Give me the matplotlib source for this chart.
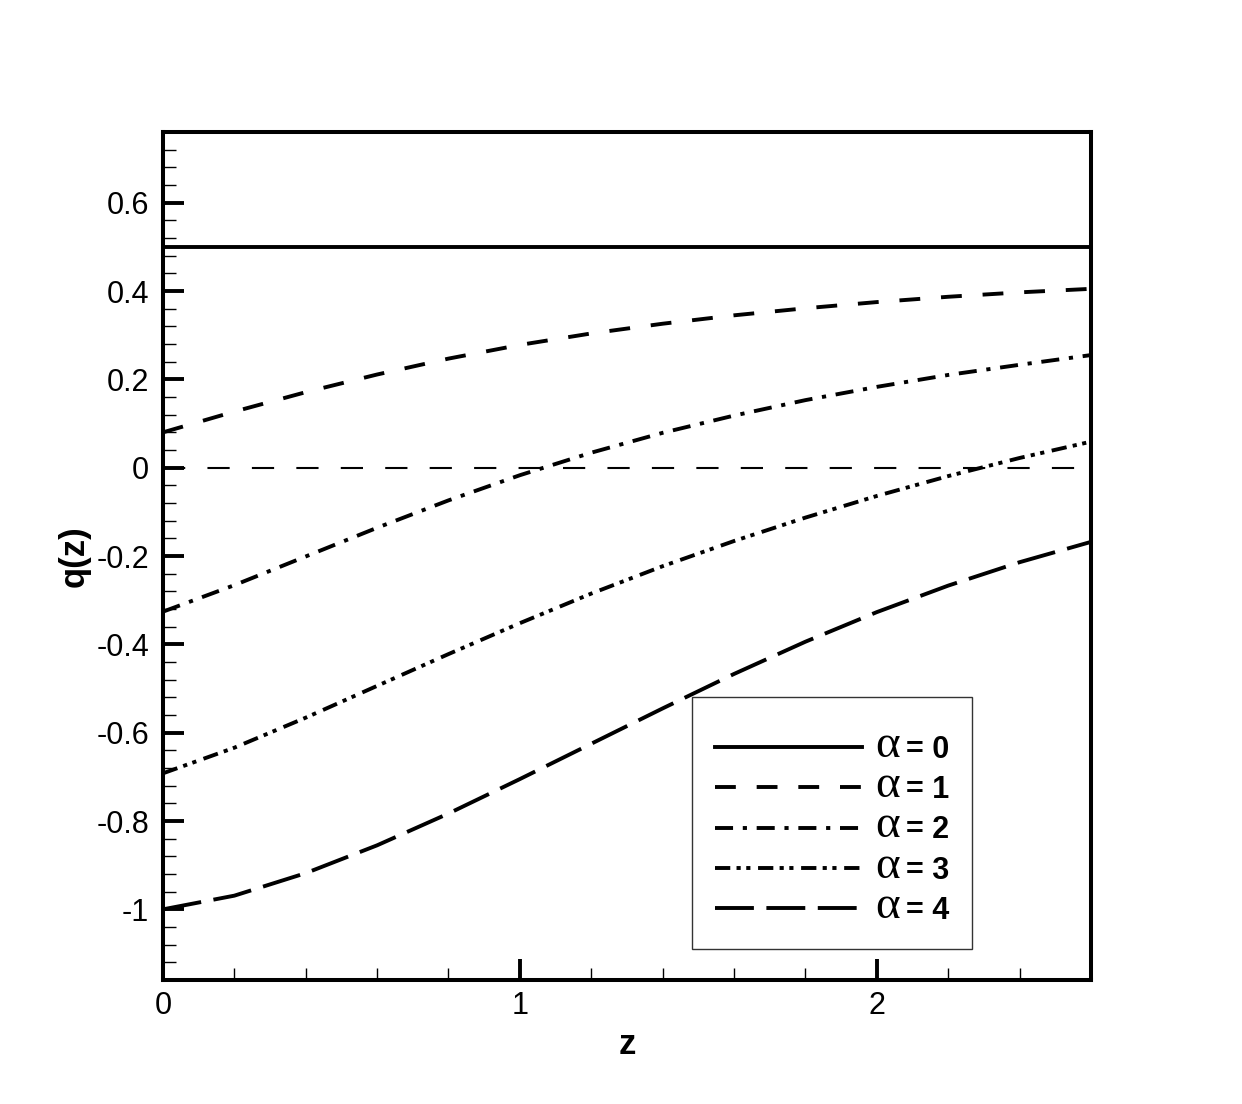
import numpy as np
import matplotlib
matplotlib.use('Agg')
import matplotlib.pyplot as plt
from matplotlib.ticker import MultipleLocator, FixedLocator

plt.rcParams['font.family'] = ['Liberation Sans', 'DejaVu Sans']
plt.rcParams['lines.scale_dashes'] = False

# values
z = [0.0, 0.2, 0.4, 0.6, 0.8, 1.0, 1.2, 1.4, 1.6, 1.8, 2.0, 2.2, 2.4, 2.6]
q_a0 = [0.5] * 14
q_a1 = [0.080, 0.127, 0.171, 0.211, 0.247, 0.278, 0.304, 0.326, 0.345, 0.361, 0.375, 0.387, 0.397, 0.405]
q_a2 = [-0.326, -0.266, -0.201, -0.136, -0.074, -0.017, 0.034, 0.079, 0.118, 0.153, 0.183, 0.210, 0.233, 0.255]
q_a3 = [-0.692, -0.634, -0.566, -0.494, -0.422, -0.352, -0.285, -0.223, -0.166, -0.113, -0.064, -0.019, 0.022, 0.059]
q_a4 = [-1.000, -0.969, -0.918, -0.855, -0.783, -0.705, -0.625, -0.545, -0.467, -0.394, -0.327, -0.267, -0.214, -0.168]
alphas = [0, 1, 2, 3, 4]
zero_line = [0.0] * 14

styles = ['-',
          (0, (15, 15)),
          (0, (13, 7, 3, 7)),
          (0, (11, 4.5, 3, 4, 3, 5.5)),
          (0, (28, 9))]

fig = plt.figure(figsize=(12.42, 11.04), dpi=100)
ax = fig.add_axes([0.1312, 0.1123, 0.7472, 0.7681])

ax.plot(z, zero_line, color='black', lw=1.5, linestyle=(0, (16, 16)))
for a, qv, ls in zip(alphas, [q_a0, q_a1, q_a2, q_a3, q_a4], styles):
    ax.plot(z, qv, color='black', lw=2.8, linestyle=ls, dash_capstyle='butt',
            label='= %d' % a)

ax.set_xlim(0, 2.6)
ax.set_ylim(-1.16, 0.76)

ax.xaxis.set_major_locator(FixedLocator([0, 1, 2]))
ax.xaxis.set_minor_locator(MultipleLocator(0.2))
ax.yaxis.set_major_locator(FixedLocator([-1, -0.8, -0.6, -0.4, -0.2, 0, 0.2, 0.4, 0.6]))
ax.yaxis.set_minor_locator(MultipleLocator(0.04))
ax.set_xticklabels(['0', '1', '2'])
ax.set_yticklabels(['-1', '-0.8', '-0.6', '-0.4', '-0.2', '0', '0.2', '0.4', '0.6'])

ax.tick_params(which='major', direction='in', length=15, width=2.8, labelsize=22,
               top=False, right=False)
ax.tick_params(which='minor', direction='in', length=9, width=1.0, top=False, right=False)
ax.tick_params(axis='y', which='major', pad=10)
ax.tick_params(axis='x', which='major', pad=8)

for s in ax.spines.values():
    s.set_linewidth(2.9)

ax.set_xlabel('z', fontsize=25, fontweight='bold', labelpad=5)
ax.set_ylabel('q(z)', fontsize=25, fontweight='bold', labelpad=4)

leg = ax.legend(loc='lower left', bbox_to_anchor=(0.570, 0.0366), frameon=True,
                fancybox=False, framealpha=1, edgecolor='#333333',
                prop={'size': 22, 'weight': 'bold'}, handlelength=4.8,
                handletextpad=1.45, labelspacing=0.34, borderpad=0.75,
                borderaxespad=0, title=' ', title_fontsize=3)
leg.get_frame().set_linewidth(1.0)

# the greek letter sits in front of each "= n", in a larger serif face
for t in leg.get_texts():
    ax.annotate('α', xy=(0, 0.5), xycoords=t, xytext=(-4.5, 3), textcoords='offset points',
                ha='right', va='center', fontsize=34, zorder=10,
                family=['Liberation Serif', 'DejaVu Serif'])

fig.savefig('out.png', dpi=100)
